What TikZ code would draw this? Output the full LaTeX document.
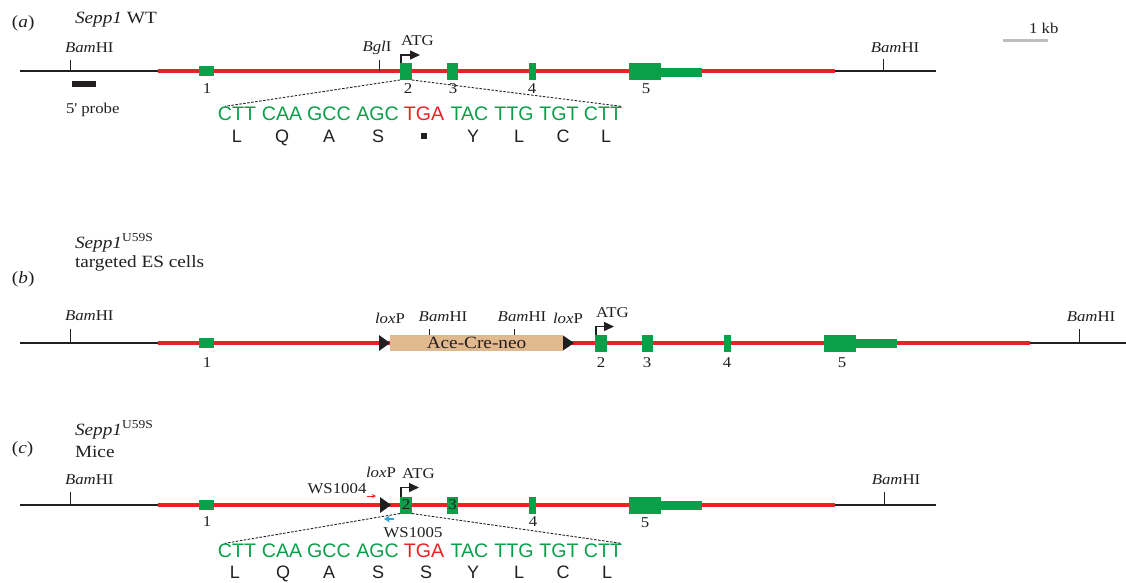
\documentclass[tikz,border=0pt]{standalone}
\usepackage{fontspec}
\setmainfont{Liberation Serif}[FakeStretch=1.12]
\newfontfamily\seqfont{Liberation Sans}
\usetikzlibrary{arrows.meta}
\definecolor{genered}{HTML}{ED2024}
\definecolor{exgreen}{HTML}{0A9F49}
\definecolor{boxtan}{HTML}{E1B98F}
\definecolor{primerblue}{HTML}{29A5DE}
\definecolor{scalegray}{HTML}{BCBEC0}
\definecolor{ink}{HTML}{231F20}
\begin{document}
\begin{tikzpicture}[x=1pt,y=-1pt,
  every node/.style={inner sep=0pt, outer sep=0pt, text=ink},
  lbl/.style={font=\fontsize{15}{17}\selectfont, anchor=base},
  lbll/.style={font=\fontsize{15}{17}\selectfont, anchor=base west},
  head/.style={font=\fontsize{17.2}{20}\selectfont, anchor=base west},
  flank/.style={draw=ink, line width=1.2pt},
  gene/.style={draw=genered, line width=4.5pt},
  tickmark/.style={draw=ink, line width=1pt},
  exon/.style={fill=exgreen, minimum height=17pt, font=\fontsize{15}{17}\selectfont},
  smallexon/.style={fill=exgreen, minimum height=10pt, minimum width=15pt},
  tailexon/.style={fill=exgreen, minimum height=9pt, minimum width=41pt},
  atgarrow/.style={draw=ink, line width=1.4pt, -{Triangle[length=10pt,width=9pt]}},
  zoomline/.style={draw=ink, line width=0.9pt, dash pattern=on 2.5pt off 1.5pt},
  codon/.style={font=\seqfont\fontsize{19.6}{22}\selectfont, anchor=base, text=exgreen},
  stopcodon/.style={font=\seqfont\fontsize{19.6}{22}\selectfont, anchor=base, text=genered},
  amino/.style={font=\seqfont\fontsize{18}{20}\selectfont, anchor=base, text=ink},
  loxtri/.style={fill=ink},
]
\useasboundingbox (0,0) rectangle (1126,582);

% ================= (a) =================
\node[head] (labA) at (12,27) {(\textit{a})};
\node[head] (titA) at (75,23) {\textit{Sepp1} WT};
\draw[flank] (20,71) -- (158,71);
\draw[flank] (835,71) -- (936,71);
\draw[gene] (158,71) -- (835,71);
\draw[tickmark] (70,60) -- (70,71);
\node[lbll] (bamA1) at (65,52.7) {\textit{Bam}HI};
\node[fill=ink, minimum width=24pt, minimum height=6pt] (probe) at (84,84) {};
\node[lbll] (probeLab) at (66,113) {5\textquotesingle{} probe};
\draw[tickmark] (379,60) -- (379,71);
\node[lbl] (bgl) at (377,51) {\textit{Bgl}I};
\draw[tickmark] (883,59) -- (883,71);
\node[lbl] (bamA2) at (895,52) {\textit{Bam}HI};
\draw[scalegray, line width=3pt] (1003,40) -- (1048,40);
\node[lbll] (kb) at (1029,33) {1 kb};

\node[smallexon] (a1) at (206.5,71) {};
\node[exon, minimum width=12pt] (a2) at (406,71.5) {};
\node[exon, minimum width=11pt] (a3) at (452.5,71.5) {};
\node[exon, minimum width=7pt] (a4) at (532.5,71.5) {};
\node[exon, minimum width=32pt] (a5) at (645,71.5) {};
\node[tailexon] (a5t) at (681.5,72) {};
\node[lbl] (na1) at (207,93) {1};
\node[lbl] (na2) at (408,93) {2};
\node[lbl] (na3) at (453,93) {3};
\node[lbl] (na4) at (532,93) {4};
\node[lbl] (na5) at (646,93) {5};
\draw[atgarrow] ([xshift=1pt]a2.north west) -- ++(0,-8) -- ++(19,0);
\node[lbll] (atgA) at (401,45) {ATG};

\node[codon] (sa1) at (237,120) {CTT};
\node[codon] (sa2) at (282,120) {CAA};
\node[codon] (sa3) at (329,120) {GCC};
\node[codon] (sa4) at (377.5,120) {AGC};
\node[stopcodon] (sa5) at (424,120) {TGA};
\node[codon] (sa6) at (469.5,120) {TAC};
\node[codon] (sa7) at (514,120) {TTG};
\node[codon] (sa8) at (559,120) {TGT};
\node[codon] (sa9) at (603,120) {CTT};
\node[amino] (pa1) at (237,142) {L};
\node[amino] (pa2) at (282,142) {Q};
\node[amino] (pa3) at (329,142) {A};
\node[amino] (pa4) at (378,142) {S};
\node[fill=ink, minimum size=6.5pt] (pa5) at (424,136) {};
\node[amino] (pa6) at (473,142) {Y};
\node[amino] (pa7) at (519,142) {L};
\node[amino] (pa8) at (563,142) {C};
\node[amino] (pa9) at (606,142) {L};
\draw[zoomline] (a2.south west) -- ([xshift=7pt]sa1.north west);
\draw[zoomline] (a2.south east) -- ([xshift=-1pt]sa9.north east);

% ================= (b) =================
\node[head] (labB) at (12,283) {(\textit{b})};
\node[head] (titB1) at (75,248) {\textit{Sepp1}\textsuperscript{U59S}};
\node[head] (titB2) at (75,267) {targeted ES cells};
\draw[flank] (20,343) -- (158,343);
\draw[flank] (1030,343) -- (1126,343);
\draw[gene] (158,343) -- (1030,343);
\draw[tickmark] (70,329) -- (70,343);
\node[lbll] (bamB1) at (65,320) {\textit{Bam}HI};
\draw[tickmark] (1079,329) -- (1079,343);
\node[lbl] (bamB4) at (1091,321) {\textit{Bam}HI};

\node[fill=boxtan, minimum width=173pt, minimum height=16pt, font=\fontsize{17.2}{20}\selectfont] (acn) at (476.5,343) {Ace-Cre-neo};
\fill[loxtri] (379,335) -- (390,343) -- (379,351) -- cycle;
\fill[loxtri] (563,335.5) -- (574,343) -- (563,350.5) -- cycle;
\draw[tickmark] (429,329) -- (429,335);
\draw[tickmark] (514,329) -- (514,335);
\node[lbl] (loxB1) at (390,323) {\textit{lox}P};
\node[lbl] (bamB2) at (443,321) {\textit{Bam}HI};
\node[lbl] (bamB3) at (522,321) {\textit{Bam}HI};
\node[lbl] (loxB2) at (568,323) {\textit{lox}P};

\node[smallexon] (b1) at (206.5,343) {};
\node[exon, minimum width=12pt] (b2) at (601,343) {};
\node[exon, minimum width=11pt] (b3) at (647.5,343) {};
\node[exon, minimum width=7pt] (b4) at (727,343) {};
\node[exon, minimum width=32pt] (b5) at (840,343) {};
\node[tailexon] (b5t) at (876.5,343.5) {};
\node[lbl] (nb1) at (207,367) {1};
\node[lbl] (nb2) at (601,367) {2};
\node[lbl] (nb3) at (647,367) {3};
\node[lbl] (nb4) at (727,367) {4};
\node[lbl] (nb5) at (842,367) {5};
\draw[atgarrow] ([xshift=1pt]b2.north west) -- ++(0,-8) -- ++(18,0);
\node[lbll] (atgB) at (596,317) {ATG};

% ================= (c) =================
\node[head] (labC) at (12,453) {(\textit{c})};
\node[head] (titC1) at (75,435) {\textit{Sepp1}\textsuperscript{U59S}};
\node[head] (titC2) at (75,457) {Mice};
\draw[flank] (20,505) -- (158,505);
\draw[flank] (835,505) -- (936,505);
\draw[gene] (158,505) -- (835,505);
\draw[tickmark] (70,492) -- (70,505);
\node[lbll] (bamC1) at (65,484) {\textit{Bam}HI};
\draw[tickmark] (884,492) -- (884,505);
\node[lbl] (bamC2) at (896,484) {\textit{Bam}HI};

\fill[loxtri] (380,497) -- (391,505) -- (380,513) -- cycle;
\node[lbl] (loxC) at (381,477) {\textit{lox}P};
\node[lbl] (ws4) at (337,493) {WS1004};
\coordinate (ws4s) at (367,496);
\coordinate (ws4e) at (376,496);
\draw[genered, line width=1pt, -{Stealth[length=4pt,width=4pt]}] (ws4s) -- (ws4e);
\coordinate (ws5s) at (394,519);
\coordinate (ws5e) at (384,519);
\draw[primerblue, line width=1.4pt, -{Stealth[length=6pt,width=7pt]}] (ws5s) -- (ws5e);
\node[lbl] (ws5) at (413,537) {WS1005};

\node[smallexon] (c1) at (206.5,505) {};
\node[exon, minimum width=12pt] (c2) at (406,505) {2};
\node[exon, minimum width=11pt] (c3) at (452.5,505) {3};
\node[exon, minimum width=7pt] (c4) at (532.5,505) {};
\node[exon, minimum width=32pt] (c5) at (645,505) {};
\node[tailexon] (c5t) at (681.5,505.5) {};
\node[lbl] (nc1) at (207,526) {1};
\node[lbl] (nc4) at (533,526) {4};
\node[lbl] (nc5) at (645,527) {5};
\draw[atgarrow] ([xshift=1pt]c2.north west) -- ++(0,-9) -- ++(18,0);
\node[lbll] (atgC) at (402,478) {ATG};

\node[codon] (sc1) at (237,557) {CTT};
\node[codon] (sc2) at (282,557) {CAA};
\node[codon] (sc3) at (329,557) {GCC};
\node[codon] (sc4) at (377.5,557) {AGC};
\node[stopcodon] (sc5) at (424,557) {TGA};
\node[codon] (sc6) at (469.5,557) {TAC};
\node[codon] (sc7) at (514,557) {TTG};
\node[codon] (sc8) at (559,557) {TGT};
\node[codon] (sc9) at (603,557) {CTT};
\node[amino] (pc1) at (235,578) {L};
\node[amino] (pc2) at (283,578) {Q};
\node[amino] (pc3) at (329,578) {A};
\node[amino] (pc4) at (378,578) {S};
\node[amino] (pc5) at (426,578) {S};
\node[amino] (pc6) at (473,578) {Y};
\node[amino] (pc7) at (519,578) {L};
\node[amino] (pc8) at (563,578) {C};
\node[amino] (pc9) at (607,578) {L};
\draw[zoomline] (c2.south west) -- ([xshift=7pt]sc1.north west);
\draw[zoomline] (c2.south east) -- ([xshift=-1pt]sc9.north east);
\end{tikzpicture}
\end{document}
